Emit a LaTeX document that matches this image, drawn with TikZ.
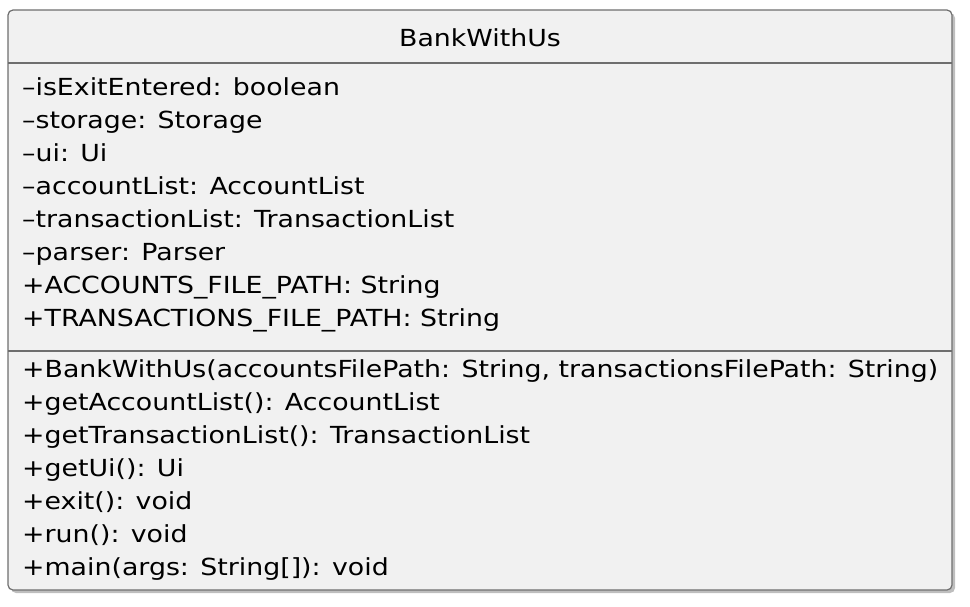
\documentclass[tikz,border=0pt]{standalone}
\usepackage{fontspec}
\setmainfont[FakeStretch=1.14]{DejaVu Sans}
\definecolor{boxfill}{RGB}{241,241,241}
\definecolor{boxline}{RGB}{110,110,110}
\definecolor{shadowc}{RGB}{190,190,190}
\begin{document}
\begin{tikzpicture}[x=1pt,y=-1pt,
  member/.style={anchor=base west,inner sep=0pt,font=\fontsize{23.5}{27}\selectfont},
  titletext/.style={anchor=base,inner sep=0pt,font=\fontsize{23.5}{27}\selectfont}]
\useasboundingbox (0,0) rectangle (970,606);
\fill[shadowc,rounded corners=5pt] (11,13) rectangle (955,593);
\draw[boxline,fill=boxfill,line width=1.2pt,rounded corners=5pt] (8,10) rectangle (952,590);
\coordinate (s1l) at (8,63); \coordinate (s1r) at (952,63);
\coordinate (s2l) at (8,351); \coordinate (s2r) at (952,351);
\draw[boxline,line width=1.2pt] (s1l) -- (s1r);
\draw[boxline,line width=1.2pt] (s2l) -- (s2r);
\node[titletext] (title) at (480,46) {BankWithUs};
\node[member] (a1) at (22,95) {–isExitEntered: boolean};
\node[member] (a2) at (22,128) {–storage: Storage};
\node[member] (a3) at (22,161) {–ui: Ui};
\node[member] (a4) at (22,194) {–accountList: AccountList};
\node[member] (a5) at (22,227) {–transactionList: TransactionList};
\node[member] (a6) at (22,260) {–parser: Parser};
\node[member] (a7) at (22,293) {+ACCOUNTS\_FILE\_PATH: String};
\node[member] (a8) at (22,326) {+TRANSACTIONS\_FILE\_PATH: String};
\node[member] (m1) at (22,377) {+BankWithUs(accountsFilePath: String, transactionsFilePath: String)};
\node[member] (m2) at (22,410) {+getAccountList(): AccountList};
\node[member] (m3) at (22,443) {+getTransactionList(): TransactionList};
\node[member] (m4) at (22,476) {+getUi(): Ui};
\node[member] (m5) at (22,509) {+exit(): void};
\node[member] (m6) at (22,542) {+run(): void};
\node[member] (m7) at (22,575) {+main(args: String[]): void};
\end{tikzpicture}
\end{document}
